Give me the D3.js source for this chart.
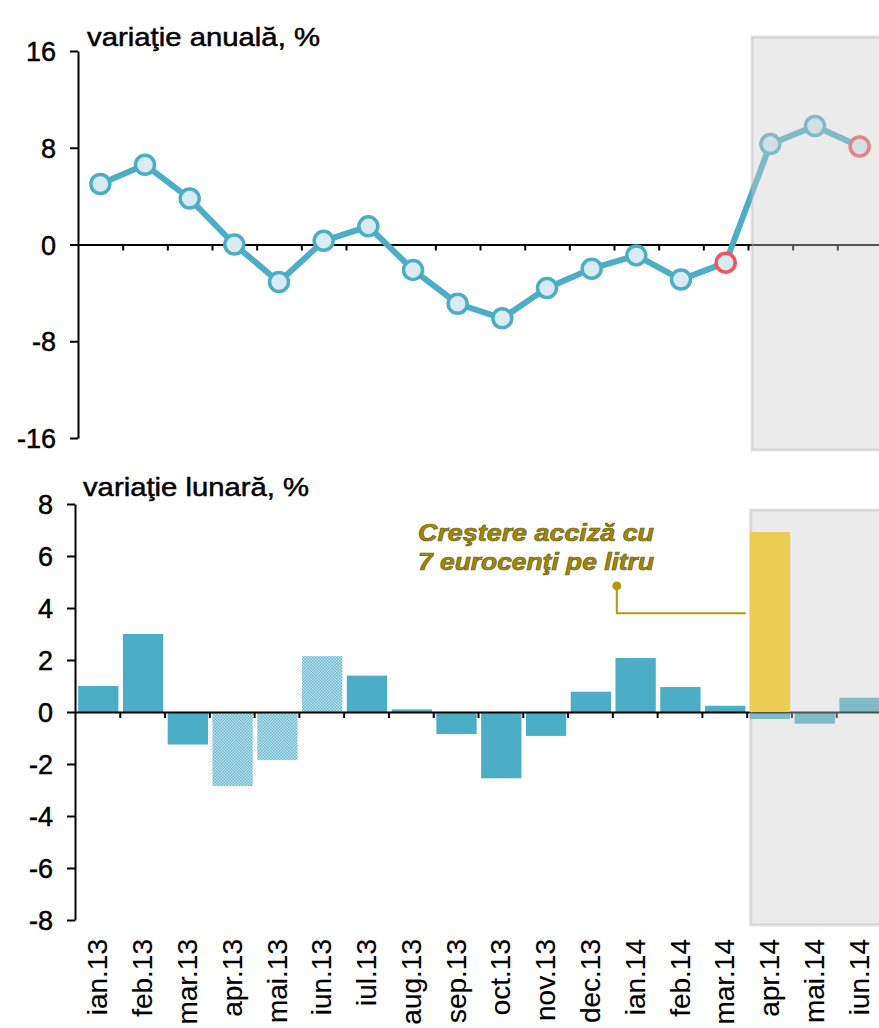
<!DOCTYPE html>
<html>
<head>
<meta charset="utf-8">
<script src="https://cdn.jsdelivr.net/npm/d3@7"></script>
<style>
  body { margin: 0; background: #fff; }
  svg text { font-family: "Liberation Sans", Arial, sans-serif; fill: #000; stroke: #000; stroke-width: 0.5px; }
</style>
</head>
<body>
<svg id="chart" width="879" height="1028"></svg>
<script>
// months on the x axis
const months = ["ian.13", "feb.13", "mar.13", "apr.13", "mai.13", "iun.13", "iul.13", "aug.13",
  "sep.13", "oct.13", "nov.13", "dec.13", "ian.14", "feb.14", "mar.14", "apr.14", "mai.14", "iun.14"];

// annual change, %
const annual = [5.0, 6.6, 3.8, 0.0, -3.1, 0.3, 1.5, -2.1, -4.9, -6.1, -3.6, -2.0, -0.9, -2.9, -1.5, 8.3, 9.8, 8.1];
const redPoints = ["mar.14", "iun.14"];

// monthly change, %
const monthly = [1.0, 3.0, -1.25, -2.85, -1.85, 2.15, 1.4, 0.1, -0.85, -2.55, -0.92, 0.78, 2.08, 0.96, 0.24, -0.27, -0.45, 0.55];
const hatched = ["apr.13", "mai.13", "iun.13"];
const excise = [{month: "apr.14", value: 6.92}];

const forecastStart = "apr.14";
const annualTicks = [-16, -8, 0, 8, 16];
const monthlyTicks = [-8, -6, -4, -2, 0, 2, 4, 6, 8];
const noteLines = ["Creştere  acciză cu", "7 eurocenţi  pe litru"];

const blue = "#4badc6";
const svg = d3.select("#chart");

// hatched fill
const defs = svg.append("defs");
const pat = defs.append("pattern")
    .attr("id", "dots")
    .attr("width", 3).attr("height", 3)
    .attr("patternUnits", "userSpaceOnUse");
pat.append("rect").attr("width", 3).attr("height", 3).attr("fill", "#c6e5ee");
pat.append("rect").attr("width", 1.5).attr("height", 1.5).attr("fill", "#63b5cc");
pat.append("rect").attr("x", 1.5).attr("y", 1.5).attr("width", 1.5).attr("height", 1.5).attr("fill", "#63b5cc");

function AddAxes(g, x, y, ticks, fontSize) {
    // boundaries between months
    const idx = d3.scaleLinear().domain([0, months.length]).range(x.range());
    g.append("g")
        .attr("transform", `translate(0,${y(0)})`)
        .call(d3.axisBottom(idx).tickValues(d3.range(1, months.length)).tickSize(6).tickFormat("").tickSizeOuter(0))
        .call(a => a.selectAll("line, path").attr("stroke", "#000").attr("stroke-width", 2));

    g.append("g")
        .attr("transform", `translate(${x.range()[0]},0)`)
        .call(d3.axisLeft(y).tickValues(ticks).tickSize(8).tickSizeOuter(0).tickPadding(14)
            .tickFormat(d => String(d)))
        .call(a => a.selectAll("line, path").attr("stroke", "#000").attr("stroke-width", 2))
        .call(a => a.selectAll("text")
            .style("font-size", fontSize + "px")
            .attr("font-family", null)
            .attr("fill", null)
            .attr("dy", "0.36em"));
    return idx;
}

function AddShade(g, x, y0, y1) {
    g.append("rect")
        .attr("x", x(forecastStart) + 4)
        .attr("y", y0)
        .attr("width", 900 - x(forecastStart))
        .attr("height", y1 - y0)
        .attr("fill", "rgba(205,205,205,0.4)")
        .attr("stroke", "rgba(170,170,170,0.35)")
        .attr("stroke-width", 3);
}

// ---------- top: annual change ----------
const xTop = d3.scaleBand().domain(months).range([78, 882]);
const yTop = d3.scaleLinear().domain([-16, 16]).range([438, 51]);
const topG = svg.append("g");

AddAxes(topG, xTop, yTop, annualTicks, 27);

topG.append("text")
    .attr("x", 87).attr("y", 46)
    .attr("textLength", 233).attr("lengthAdjust", "spacingAndGlyphs")
    .style("font-size", "26px")
    .text("variaţie anuală,  %");

const line = d3.line()
    .x((d, i) => xTop(months[i]) + xTop.bandwidth() / 2)
    .y(d => yTop(d));

topG.append("path")
    .attr("fill", "none")
    .attr("stroke", blue)
    .attr("stroke-width", 6)
    .attr("stroke-linejoin", "round")
    .attr("d", line(annual));

topG.append("g")
    .selectAll("circle")
    .data(annual)
    .join("circle")
    .attr("cx", (d, i) => xTop(months[i]) + xTop.bandwidth() / 2)
    .attr("cy", d => yTop(d))
    .attr("r", 9.5)
    .attr("fill", "#d8ebf2")
    .attr("stroke", (d, i) => redPoints.includes(months[i]) ? "#f1555b" : blue)
    .attr("stroke-width", 3.5);

AddShade(topG, xTop, 37, 450);

// ---------- bottom: monthly change ----------
const xBot = d3.scaleBand().domain(months).range([75, 881]).paddingInner(0.1).paddingOuter(0.05).align(0.7);
const xBotFull = d3.scaleBand().domain(months).range([75, 881]);
const yBot = d3.scaleLinear().domain([-8, 8]).range([920, 504]);
const botG = svg.append("g");

botG.append("text")
    .attr("x", 83).attr("y", 496)
    .attr("textLength", 226).attr("lengthAdjust", "spacingAndGlyphs")
    .style("font-size", "26px")
    .text("variaţie lunară, %");

botG.append("g")
    .selectAll("rect")
    .data(monthly)
    .join("rect")
    .attr("x", (d, i) => xBot(months[i]))
    .attr("width", xBot.bandwidth())
    .attr("y", d => yBot(Math.max(0, d)))
    .attr("height", d => Math.abs(yBot(d) - yBot(0)))
    .attr("fill", (d, i) => hatched.includes(months[i]) ? "url(#dots)" : blue);

const idxBot = AddAxes(botG, xBotFull, yBot, monthlyTicks, 27);

AddShade(botG, xBotFull, 510, 925);

botG.append("g")
    .selectAll("rect")
    .data(excise)
    .join("rect")
    .attr("x", d => xBot(d.month))
    .attr("width", xBot.bandwidth())
    .attr("y", d => yBot(d.value))
    .attr("height", d => yBot(0) - yBot(d.value))
    .attr("fill", "#ebcd54");

// note and leader line
const gold = "#b7970e";
const noteX = idxBot(12.1);
botG.append("path")
    .attr("fill", "none")
    .attr("stroke", gold)
    .attr("stroke-width", 2)
    .attr("d", d3.line()([[noteX, yBot(4.85)], [noteX, yBot(3.8)], [xBot(excise[0].month) - 4, yBot(3.8)]]));
botG.append("circle")
    .attr("cx", noteX).attr("cy", yBot(4.85)).attr("r", 4.5)
    .attr("fill", gold);

botG.append("g")
    .selectAll("text")
    .data(noteLines)
    .join("text")
    .attr("x", 536)
    .attr("y", (d, i) => 541 + i * 29)
    .attr("text-anchor", "middle")
    .attr("textLength", 236).attr("lengthAdjust", "spacingAndGlyphs")
    .style("font-size", "23px")
    .style("font-weight", "bold")
    .style("font-style", "italic")
    .style("fill", "#a0870f")
    .style("stroke", "#6f5e08")
    .style("stroke-width", 0.7)
    .text(d => d);

// month labels
botG.append("g")
    .selectAll("text")
    .data(months)
    .join("text")
    .attr("transform", d => `translate(${xBotFull(d) + xBotFull.bandwidth() / 2 + 10},939) rotate(-90)`)
    .attr("text-anchor", "end")
    .style("font-size", "28px")
    .style("stroke-width", 0.15)
    .text(d => d);
</script>
</body>
</html>
